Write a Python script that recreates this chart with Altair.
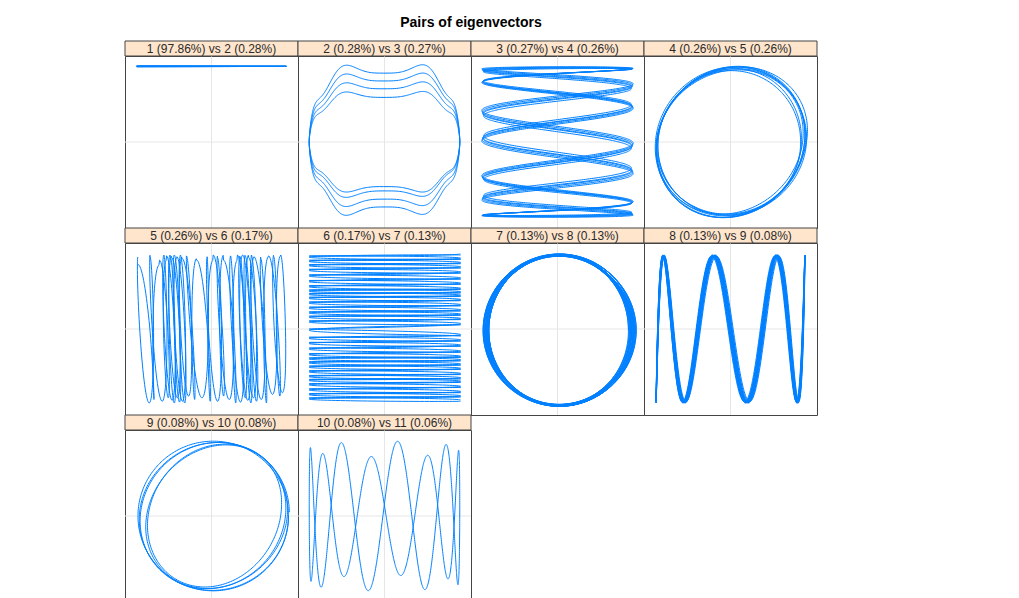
import numpy as np
import pandas as pd
import altair as alt

TITLE = "Pairs of eigenvectors"
LABELS = [
    "1 (97.86%) vs 2 (0.28%)", "2 (0.28%) vs 3 (0.27%)", "3 (0.27%) vs 4 (0.26%)", "4 (0.26%) vs 5 (0.26%)",
    "5 (0.26%) vs 6 (0.17%)", "6 (0.17%) vs 7 (0.13%)", "7 (0.13%) vs 8 (0.13%)", "8 (0.13%) vs 9 (0.08%)",
    "9 (0.08%) vs 10 (0.08%)", "10 (0.08%) vs 11 (0.06%)",
]
TAU = 2 * np.pi

# Panel 1: flat line near top
P1_X_HALF = 0.865
P1_Y_LEVEL = 0.88
P1_SWEEPS = 4

# Panel 2: four nested wavy loops
P2_X_HALF = 0.87
P2_LOOP_HEIGHTS = [0.88, 0.78, 0.68, 0.57]
P2_WIGGLE = 0.09
P2_WIGGLE_FREQ = 8

# Panel 3: zig-zag (7:1)
P3_RATIO = 7
P3_AMPS = [0.855, 0.865, 0.875, 0.86, 0.87]
P3_PHASE_DEG = [8, 10, 12, 9.5, 11]

# Panel 4: overlapping rings
P4_AX = [0.86, 0.82, 0.89, 0.81, 0.87, 0.84, 0.88, 0.86]
P4_AY = [0.88, 0.84, 0.89, 0.82, 0.86, 0.83, 0.87, 0.88]
P4_TILT = [0.10, 0.03, 0.16, 0.0, 0.08, 0.13, 0.05, 0.10]

# Panel 5: narrow vertical loops (centres)
P5_CENTERS = [-0.82, -0.68, -0.57, -0.52, -0.49, -0.45, -0.43, -0.40, -0.37, -0.33, -0.31, -0.26, -0.14,
              -0.02, 0.05, 0.10, 0.17, 0.25, 0.33, 0.36, 0.39, 0.42, 0.46, 0.49, 0.52, 0.60, 0.69, 0.75, 0.83]
P5_TOPS = [0.75, 0.84, 0.80, 0.86, 0.85, 0.86, 0.83, 0.86, 0.84, 0.86, 0.82, 0.85, 0.80, 0.84, 0.86,
           0.83, 0.80, 0.85, 0.86, 0.84, 0.86, 0.85, 0.83, 0.86, 0.84, 0.82, 0.85, 0.84, 0.86]
P5_BOTTOMS = [0.82, 0.86, 0.80, 0.84, 0.86, 0.83, 0.85, 0.80, 0.86, 0.84, 0.82, 0.78, 0.84, 0.80, 0.78,
              0.84, 0.86, 0.82, 0.80, 0.85, 0.86, 0.83, 0.84, 0.80, 0.86, 0.82, 0.78, 0.76, 0.74]
P5_HALF_WIDTH = 0.045
P5_SLANT = 0.03

# Panel 6: horizontal strokes at these levels
P6_LEVELS = [0.86, 0.81, 0.76, 0.71, 0.65, 0.58, 0.52, 0.46, 0.42, 0.38, 0.33, 0.27, 0.21, 0.16, 0.11, 0.05,
             -0.08, -0.14, -0.20, -0.27, -0.33, -0.37, -0.42, -0.47, -0.53, -0.58, -0.62, -0.68, -0.74, -0.79, -0.84]
P6_X_LEFT, P6_X_RIGHT = -0.87, 0.88
P6_THICK = 0.012

# Panel 7: thick ring
P7_AX = [0.80, 0.83, 0.86, 0.88, 0.85, 0.82, 0.81, 0.84, 0.87, 0.89, 0.86, 0.83]
P7_AY = [0.87, 0.88, 0.86, 0.89, 0.87, 0.88, 0.86, 0.87, 0.89, 0.88, 0.87, 0.86]
P7_CX, P7_CY = 0.02, -0.015

# Panel 8: 7:1 wave band
P8_X_HALF = 0.86
P8_FREQ = 7
P8_PHASES = [-0.2, 0.05, 0.3, 0.10, -0.08, 0.22, 0.0, 0.15]
P8_AMPS = [0.85, 0.86, 0.84, 0.85, 0.86, 0.84, 0.85, 0.86]

# Panel 9: rings
P9_CX = [0.015, 0.04, 0.055, 0.03, 0.02]
P9_AX = [0.885, 0.82, 0.755, 0.85, 0.87]
P9_AY = [0.86, 0.84, 0.82, 0.85, 0.87]
P9_TILT = [0.05, 0.12, 0.18, 0.08, 0.0]

# Panel 10: 8:1 Lissajous arches
P10_X_HALF = 0.87
P10_FREQ = 8
P10_PHASE = 1.40
P10_AMP_MEAN = 0.78
P10_AMP_SWING = 0.09

W, PH, SH = 173, 172, 15


def frame(x, y, g=0):
    return pd.DataFrame({"x": x, "y": y, "i": np.arange(len(x)), "g": g})


def panel1():
    t = np.linspace(0, TAU * P1_SWEEPS, 800)
    return frame(P1_X_HALF * np.cos(t), P1_Y_LEVEL + 0.004 * np.sin(0.5 * t))


def panel2():
    n = len(P2_LOOP_HEIGHTS)
    t = np.linspace(0, TAU * n, 600 * n)
    a = np.interp(t / TAU - 0.25, np.arange(n), P2_LOOP_HEIGHTS)
    c = np.cos(t)
    x = P2_X_HALF * np.sign(c) * np.abs(c) ** 0.6
    y = a * np.sin(t) * (1 - P2_WIGGLE * np.cos(P2_WIGGLE_FREQ * t))
    return frame(x, y)


def panel3():
    out = []
    for j, (a, ph) in enumerate(zip(P3_AMPS, P3_PHASE_DEG)):
        t = np.linspace(0, TAU, 1500)
        th = np.deg2rad(ph)
        out.append(frame(a * np.cos(P3_RATIO * (t - th)), a * np.cos(t), j))
    return pd.concat(out)


def rings(ax, ay, tilt, cx=None):
    n = len(ax)
    t = np.linspace(0, TAU * n, 250 * n)
    k = t / TAU
    axi = np.interp(k, np.arange(n), ax)
    ayi = np.interp(k, np.arange(n), ay)
    ti = np.interp(k, np.arange(n), tilt)
    c = np.interp(k, np.arange(n), cx) if cx is not None else 0
    return frame(c + axi * np.cos(t), ayi * np.sin(t + ti))


def panel5():
    m = len(P5_CENTERS)
    idx = list(range(0, m, 2)) + list(range(m - 1 if m % 2 == 0 else m - 2, 0, -2))
    idx = idx + [idx[0]]
    xs, ys = [], []
    for a, b in zip(idx[:-1], idx[1:]):
        th = np.linspace(0, TAU, 70, endpoint=False)
        c = P5_CENTERS[a] + (P5_CENTERS[b] - P5_CENTERS[a]) * th / TAU
        cs = np.cos(th)
        xs.append(c + P5_HALF_WIDTH * np.sin(th) - P5_SLANT * cs)
        ys.append(cs * np.where(cs >= 0, P5_TOPS[a], P5_BOTTOMS[a]))
    return frame(np.concatenate(xs), np.concatenate(ys))


def panel6():
    mid = (P6_X_LEFT + P6_X_RIGHT) / 2
    half = (P6_X_RIGHT - P6_X_LEFT) / 2
    out = []
    for g, lv in enumerate([P6_LEVELS, [v + 0.014 for v in P6_LEVELS[::-1]]]):
        xs, ys = [], []
        for a, b in zip(lv[:-1], lv[1:]):
            th = np.linspace(0, TAU, 80, endpoint=False)
            xs.append(mid + half * np.cos(th))
            ys.append(a + (b - a) * th / TAU + P6_THICK * np.sin(th))
        out.append(frame(np.concatenate(xs), np.concatenate(ys), g))
    return pd.concat(out)


def panel7():
    ax = P7_AX * 2
    ay = P7_AY * 2
    n = len(ax)
    t = np.linspace(0, TAU * n, 200 * n)
    k = t / TAU
    return frame(P7_CX + np.interp(k, np.arange(n), ax) * np.cos(t),
                 P7_CY + np.interp(k, np.arange(n), ay) * np.sin(t))


def panel8():
    n = len(P8_PHASES)
    t = np.linspace(0, TAU * n, 800 * n)
    k = t / TAU
    ph = np.interp(k, np.arange(n), P8_PHASES)
    a = np.interp(k, np.arange(n), P8_AMPS)
    return frame(P8_X_HALF * np.cos(t), a * np.cos(P8_FREQ * t + ph))


def panel10():
    t = np.linspace(0, TAU, 1600)
    return frame(P10_X_HALF * np.cos(t),
                 (P10_AMP_MEAN + P10_AMP_SWING * np.sin(t)) * np.cos(P10_FREQ * t + P10_PHASE))


DATA = [panel1(), panel2(), panel3(), rings(P4_AX, P4_AY, P4_TILT), panel5(), panel6(), panel7(),
        panel8(), rings(P9_AX, P9_AY, P9_TILT, P9_CX), panel10()]


def make_panel(label, df):
    sc = alt.Scale(domain=[-1, 1], nice=False, zero=False)
    xenc = alt.X("x:Q", scale=sc, axis=None)
    yenc = alt.Y("y:Q", scale=sc, axis=None)
    grid = pd.DataFrame({"x": [0.0], "y": [0.0]})
    gv = alt.Chart(grid).mark_rule(color="#e6e6e6", strokeWidth=1).encode(x=xenc)
    gh = alt.Chart(grid).mark_rule(color="#e6e6e6", strokeWidth=1).encode(y=yenc)
    ln = alt.Chart(df).mark_line(color="#0080ff", strokeWidth=1).encode(
        x=xenc, y=yenc, order=alt.Order("i:Q"), detail="g:N")
    s = pd.DataFrame({"label": [label]})
    rect = alt.Chart(s).mark_rect(fill="#ffe5cc", stroke="#444444", strokeWidth=1).encode(
        x=alt.value(0), x2=alt.value(W), y=alt.value(-SH), y2=alt.value(0))
    txt = alt.Chart(s).mark_text(font="Liberation Sans", fontSize=12, color="#2a2a2a", baseline="middle").encode(
        x=alt.value(W / 2), y=alt.value(-SH / 2 + 0.5), text="label:N")
    return alt.layer(gv, gh, ln, rect, txt).properties(width=W, height=PH)


panels = [make_panel(l, d) for l, d in zip(LABELS, DATA)]

chart = alt.concat(*panels, columns=4, spacing={"row": SH, "column": 0}, bounds="flush").properties(
    title=alt.TitleParams(text=TITLE, fontSize=14, fontWeight="bold", font="Liberation Sans",
                          anchor="middle", color="#000000", offset=10),
    padding={"left": 124, "top": 16, "right": 5, "bottom": 5},
).configure_view(stroke="#444444", strokeWidth=1)

chart.save("out.html", embed_options={"renderer": "svg", "actions": False})
